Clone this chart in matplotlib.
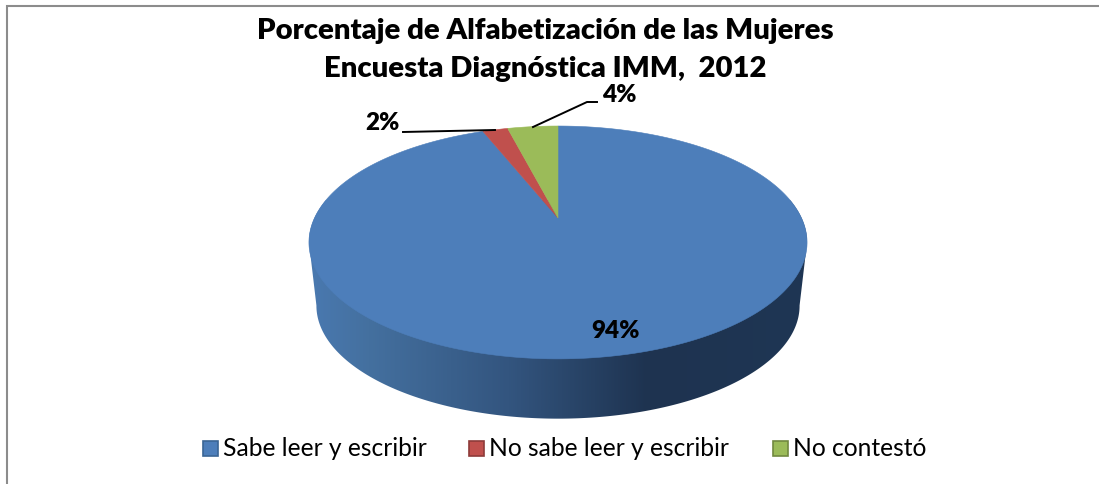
import numpy as np
import matplotlib
matplotlib.use("Agg")
import matplotlib.pyplot as plt
from matplotlib.patches import Polygon, Rectangle
from matplotlib.colors import LinearSegmentedColormap

title_lines = ["Porcentaje de Alfabetización de las Mujeres", "Encuesta Diagnóstica IMM,  2012"]
categories = ["Sabe leer y escribir", "No sabe leer y escribir", "No contestó"]
values = [94, 2, 4]
labels = ["94%", "2%", "4%"]
colors = ["#4D7EBA", "#C0504D", "#9BBB59"]
edge_colors = ["#3A6595", "#8E3B39", "#71893F"]

W, H = 1099, 484
plt.rcParams['font.family'] = ['Lato', 'DejaVu Sans']
fig = plt.figure(figsize=(W / 100, H / 100), dpi=100)
ax = fig.add_axes([0, 0, 1, 1])
ax.set_xlim(0, W)
ax.set_ylim(H, 0)
ax.axis("off")

# frame: only the left and top edges are visible, running to the image edges
ax.plot([7, 7, W], [H, 6, 6], color="#8C8C8C", lw=1.5, solid_joinstyle="miter", zorder=1)

CX, CY, A, B, K = 558.0, 218.0, 243.5, 111.3, 0.21
DROP, SHRINK = 64.0, 0.97


def rim(theta, scale=1.0, dy=0.0):
    u, v = np.sin(theta), np.cos(theta)
    w = 1 + K * v
    return CX + scale * A * u / w, CY + dy - scale * B * v / w


# side wall: horizontal gradient clipped to the outline between the two rims
t = np.linspace(0, 2 * np.pi, 721)
x1, y1 = rim(t)
i1 = np.argmax(x1)
j1 = np.argmin(x1)
top_back = np.linspace(t[j1], 2 * np.pi + t[i1], 300)
bottom_front = np.linspace(t[i1], t[j1], 300)
ox = np.r_[rim(top_back)[0], rim(bottom_front, SHRINK, DROP)[0]]
oy = np.r_[rim(top_back)[1], rim(bottom_front, SHRINK, DROP)[1]]
clip = Polygon(np.c_[ox, oy], closed=True, fc="none", ec="none")
ax.add_patch(clip)
side = LinearSegmentedColormap.from_list("side", [
    (0.0, "#4A79B0"), (0.12, "#44709F"), (0.40, "#33557F"),
    (0.68, "#1E3350"), (1.0, "#1F3654")])
grad = np.linspace(0, 1, 512)[None, :]
img = ax.imshow(grad, cmap=side, extent=(309, 807, 420, 200), aspect="auto", zorder=1)
img.set_clip_path(clip)
ax.set_xlim(0, W)
ax.set_ylim(H, 0)

# top faces, clockwise from twelve o'clock
total = sum(values)
fractions = [v / total for v in values]
start = 0.0
for frac, col in zip(fractions, colors):
    th = np.linspace(start, start + 2 * np.pi * frac, max(int(frac * 720), 8))
    px, py = rim(th)
    ax.add_patch(Polygon(np.c_[np.r_[CX, px], np.r_[CY, py]], closed=True,
                         fc=col, ec=col, lw=0.4, zorder=2))
    start += 2 * np.pi * frac

txt = dict(fontweight="heavy", fontsize=17.5, ha="center", va="center", color="black", zorder=5)
ax.text(616, 331, labels[0], **txt)
ax.text(382, 123, labels[1], **txt)
ax.text(619, 95, labels[2], **txt)

ax.plot([403, 495], [132, 130], color="black", lw=1.4, zorder=4)
ax.plot([597, 587, 533], [102, 102, 127], color="black", lw=1.4, zorder=4)

ax.text(545, 31, title_lines[0], fontweight="heavy", fontsize=21.1, ha="center", va="center", zorder=5)
ax.text(545, 69, title_lines[1], fontweight="heavy", fontsize=21.1, ha="center", va="center", zorder=5)

leg_x = [202, 468, 772]
text_x = [224, 490, 794]
for lx, tx, name, col, ec in zip(leg_x, text_x, categories, colors, edge_colors):
    ax.add_patch(Rectangle((lx + 0.5, 440.5), 15, 15, fc=col, ec=ec, lw=1.2))
    ax.text(tx - 1, 448, name, fontsize=17.7, ha="left", va="center", color="black")

fig.savefig("out.png", dpi=100)
